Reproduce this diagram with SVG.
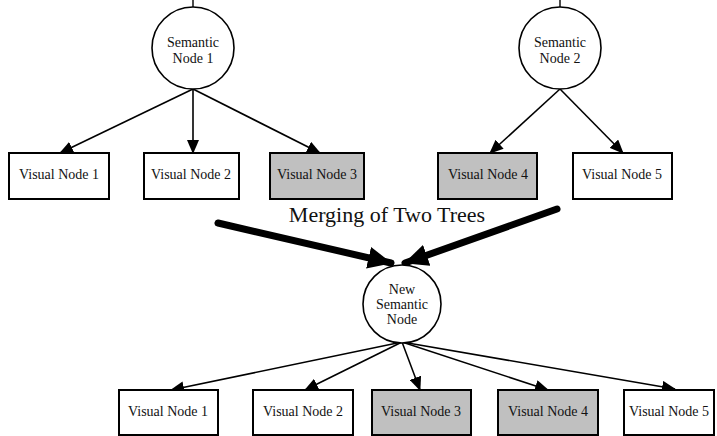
<svg xmlns="http://www.w3.org/2000/svg" width="717" height="436" viewBox="0 0 717 436">
  <style>
    .sem { fill: #fff; stroke: #000; stroke-width: 1.6; }
    .box { fill: #fff; stroke: #000; stroke-width: 2; }
    .box.hl { fill: #c0c0c0; }
    text { font-family: Liberation Serif, Tinos, Times New Roman, DejaVu Serif, FreeSerif, serif; fill: #111; text-anchor: middle; }
    .lbl { font-size: 14px; }
    .edge { stroke: #000; stroke-width: 1.6; fill: none; marker-end: url(#arrow); }
    .merge { stroke: #000; stroke-width: 7; fill: none; stroke-linecap: round; marker-end: url(#bigArrow); }
    .stub { stroke: #000; stroke-width: 1.4; }
    .title { font-size: 22px; }
  </style>
  <defs>
    <marker id="arrow" markerUnits="userSpaceOnUse" markerWidth="14" markerHeight="12" refX="13" refY="6" orient="auto">
      <path d="M0,0 L14,6 L0,12 Z" fill="#000"/>
    </marker>
    <marker id="bigArrow" markerUnits="userSpaceOnUse" markerWidth="24" markerHeight="22" refX="23" refY="11" orient="auto">
      <path d="M0,0 L24,11 L0,22 Z" fill="#000"/>
    </marker>
  </defs>

  <!-- connectors -->
  <g id="connectors">
    <!-- tree 1 -->
    <line class="stub" x1="193" y1="0" x2="193" y2="7"/>
    <line class="edge" x1="193" y1="89" x2="60" y2="153"/>
    <line class="edge" x1="193" y1="89" x2="193" y2="153"/>
    <line class="edge" x1="193" y1="89" x2="320" y2="153"/>
    <!-- tree 2 -->
    <line class="stub" x1="560" y1="0" x2="560" y2="7"/>
    <line class="edge" x1="560" y1="89" x2="490" y2="153"/>
    <line class="edge" x1="560" y1="89" x2="623" y2="153"/>
    <!-- merge arrows -->
    <line class="merge" x1="218" y1="223" x2="391" y2="263"/>
    <line class="merge" x1="557" y1="209" x2="405" y2="263"/>
    <!-- merged tree -->
    <line class="edge" x1="402" y1="342" x2="171" y2="390"/>
    <line class="edge" x1="402" y1="342" x2="305" y2="390"/>
    <line class="edge" x1="402" y1="342" x2="420" y2="390"/>
    <line class="edge" x1="402" y1="342" x2="548" y2="390"/>
    <line class="edge" x1="402" y1="342" x2="675" y2="389"/>
  </g>

  <text class="title" x="387" y="222">Merging of Two Trees</text>

  <!-- semantic nodes -->
  <g id="semantic1">
    <circle class="sem" cx="193" cy="48" r="41"/>
    <text class="lbl" x="193" y="47">Semantic</text>
    <text class="lbl" x="193" y="63">Node 1</text>
  </g>
  <g id="semantic2">
    <circle class="sem" cx="560" cy="48" r="41"/>
    <text class="lbl" x="560" y="47">Semantic</text>
    <text class="lbl" x="560" y="63">Node 2</text>
  </g>
  <g id="semanticNew">
    <circle class="sem" cx="402" cy="304" r="39"/>
    <text class="lbl" x="402" y="294">New</text>
    <text class="lbl" x="402" y="309">Semantic</text>
    <text class="lbl" x="402" y="324">Node</text>
  </g>

  <!-- top row visual nodes -->
  <g id="t1-visual1">
    <rect class="box" x="9" y="153" width="100" height="46"/>
    <text class="lbl" x="59" y="179">Visual Node 1</text>
  </g>
  <g id="t1-visual2">
    <rect class="box" x="144" y="153" width="95" height="46"/>
    <text class="lbl" x="191" y="179">Visual Node 2</text>
  </g>
  <g id="t1-visual3">
    <rect class="box hl" x="270" y="153" width="94" height="46"/>
    <text class="lbl" x="317" y="179">Visual Node 3</text>
  </g>
  <g id="t2-visual4">
    <rect class="box hl" x="438" y="153" width="99" height="46"/>
    <text class="lbl" x="488" y="179">Visual Node 4</text>
  </g>
  <g id="t2-visual5">
    <rect class="box" x="573" y="153" width="99" height="46"/>
    <text class="lbl" x="622" y="179">Visual Node 5</text>
  </g>

  <!-- merged row visual nodes -->
  <g id="m-visual1">
    <rect class="box" x="119" y="390" width="99" height="45"/>
    <text class="lbl" x="168" y="416">Visual Node 1</text>
  </g>
  <g id="m-visual2">
    <rect class="box" x="253" y="390" width="100" height="45"/>
    <text class="lbl" x="303" y="416">Visual Node 2</text>
  </g>
  <g id="m-visual3">
    <rect class="box hl" x="372" y="390" width="99" height="45"/>
    <text class="lbl" x="421" y="416">Visual Node 3</text>
  </g>
  <g id="m-visual4">
    <rect class="box hl" x="498" y="390" width="100" height="45"/>
    <text class="lbl" x="548" y="416">Visual Node 4</text>
  </g>
  <g id="m-visual5">
    <rect class="box" x="624" y="390" width="90" height="45"/>
    <text class="lbl" x="669" y="416">Visual Node 5</text>
  </g>
</svg>
